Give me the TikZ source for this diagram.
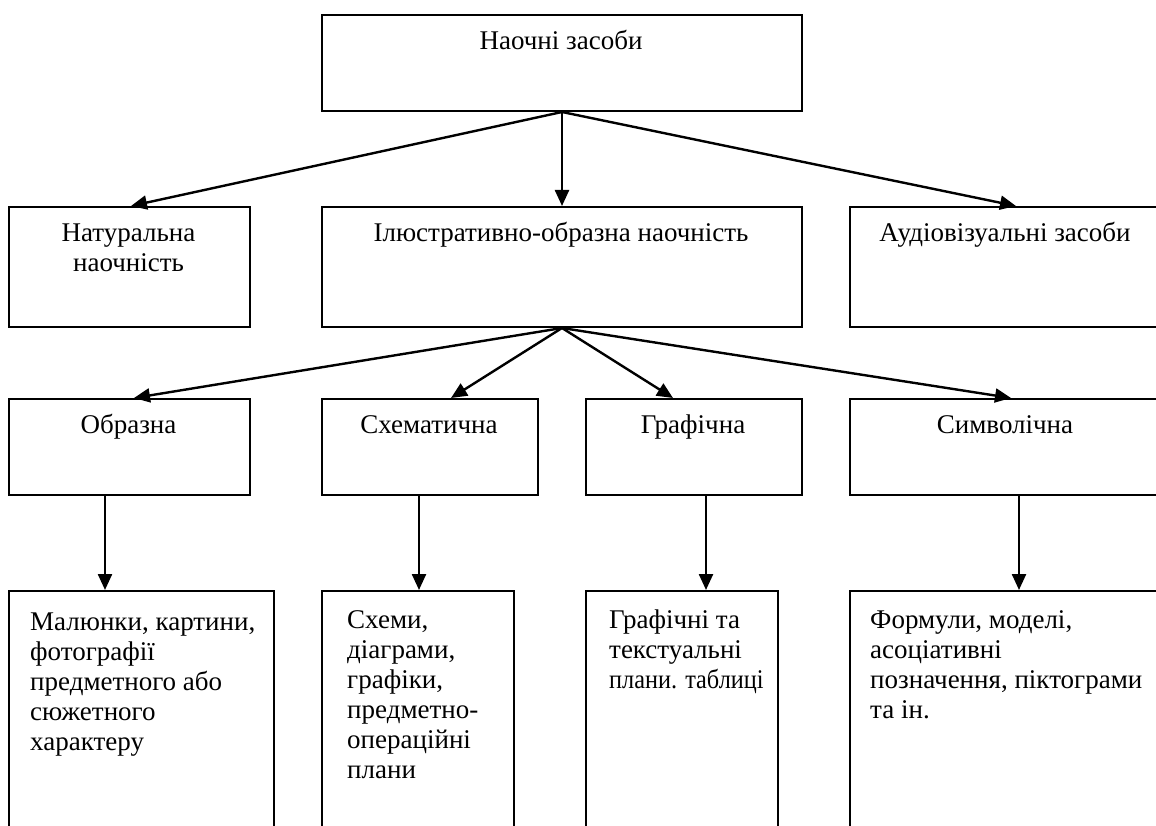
\documentclass[tikz,border=0pt]{standalone}
\usepackage{fontspec}
\usepackage{graphicx}
\setmainfont{Liberation Serif}
\usetikzlibrary{arrows.meta,calc}
\newcommand{\ltab}[1]{\begin{tabular}[t]{@{}l@{}}#1\end{tabular}}
\newcommand{\ctab}[1]{\begin{tabular}[t]{@{}c@{}}#1\end{tabular}}
\tikzset{
  box/.style={draw=black, line width=2pt, rectangle, anchor=north west, inner sep=0pt},
  txt/.style={font=\fontsize{27}{30}\selectfont, inner sep=0pt, anchor=base},
  ltxt/.style={font=\fontsize{27}{30}\selectfont, inner sep=0pt, anchor=base west},
  arr/.style={line width=2.4pt, -{Triangle[length=16pt,width=14pt]}},
}
\begin{document}
\begin{tikzpicture}[x=1pt,y=-1pt]
\useasboundingbox (0,0) rectangle (1156,826);
\clip (0,0) rectangle (1156,826);
% top
\node[box, minimum width=480pt, minimum height=96pt] (top) at (321,14) {};
\node[txt] (topt) at (561,50) {Наочні засоби};
% row 2
\node[box, minimum width=241pt, minimum height=120pt] (nat) at (8,206) {};
\node[box, minimum width=480pt, minimum height=120pt] (ill) at (321,206) {};
\node[box, minimum width=332pt, minimum height=120pt] (aud) at (849,206) {};
\node[txt] (natt) at (128.5,242) {\ctab{Натуральна\\наочність}};
\node[txt] (illt) at (561,242) {Ілюстративно-образна наочність};
\node[txt] (audt) at (1005,242) {Аудіовізуальні засоби};
% row 3
\node[box, minimum width=241pt, minimum height=96pt] (obr) at (8,398) {};
\node[box, minimum width=216pt, minimum height=96pt] (sch) at (321,398) {};
\node[box, minimum width=216pt, minimum height=96pt] (gra) at (585,398) {};
\node[box, minimum width=332pt, minimum height=96pt] (sym) at (849,398) {};
\node[txt] (obrt) at (128.5,433) {Образна};
\node[txt] (scht) at (429,433) {Схематична};
\node[txt] (grat) at (693,433) {Графічна};
\node[txt] (symt) at (1005,433) {Символічна};
% row 4
\node[box, minimum width=265pt, minimum height=260pt] (mal) at (8,590) {};
\node[box, minimum width=192pt, minimum height=260pt] (sxm) at (321,590) {};
\node[box, minimum width=192pt, minimum height=260pt] (grt) at (585,590) {};
\node[box, minimum width=332pt, minimum height=260pt] (for) at (849,590) {};
\node[ltxt] (malt) at (30,630) {\ltab{Малюнки, картини,\\фотографії\\предметного або\\сюжетного\\характеру}};
\node[ltxt] (sxmt) at (347,628) {\ltab{Схеми,\\діаграми,\\графіки,\\предметно-\\операційні\\плани}};
\node[ltxt] (grtt) at (609,628) {\ltab{Графічні та\\текстуальні\\\scalebox{0.9}[1]{плани. таблиці}}};
\node[ltxt] (fort) at (870,628) {\ltab{Формули, моделі,\\асоціативні\\позначення, піктограми\\та ін.}};
% connectors
\draw[arr] (top.south) -- (ill.north);
\draw[arr] (top.south) -- ([xshift=1.5pt]nat.north);
\draw[arr] (top.south) -- (aud.north);
\draw[arr] (ill.south) -- ([xshift=4.5pt]obr.north);
\draw[arr] (ill.south) -- ([xshift=21pt]sch.north);
\draw[arr] (ill.south) -- ([xshift=-21pt]gra.north);
\draw[arr] (ill.south) -- ([xshift=-5pt]sym.north);
\draw[arr] ([xshift=-24.5pt]obr.south) -- ([xshift=-24.5pt]obr.south |- mal.north);
\draw[arr] ([xshift=-11pt]sch.south) -- ([xshift=-11pt]sch.south |- sxm.north);
\draw[arr] ([xshift=12pt]gra.south) -- ([xshift=12pt]gra.south |- grt.north);
\draw[arr] ([xshift=3pt]sym.south) -- ([xshift=3pt]sym.south |- for.north);
\end{tikzpicture}
\end{document}
